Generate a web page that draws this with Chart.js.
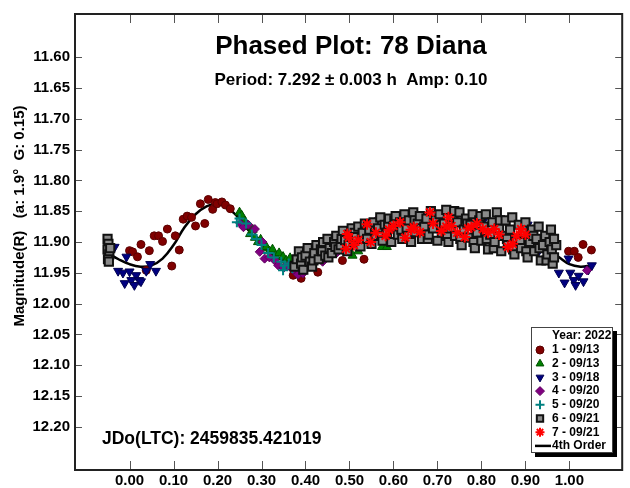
<!DOCTYPE html>
<html>
<head>
<meta charset="utf-8">
<script src="https://cdn.jsdelivr.net/npm/chart.js@4.4.1/dist/chart.umd.min.js"></script>
<style>
html, body { margin: 0; padding: 0; background: #fff; }
</style>
</head>
<body>
<canvas id="c" width="630" height="488"></canvas>
<script>
// axis ticks
const xTicks = [0.00, 0.10, 0.20, 0.30, 0.40, 0.50, 0.60, 0.70, 0.80, 0.90, 1.00];
const yTicks = [11.60, 11.65, 11.70, 11.75, 11.80, 11.85, 11.90, 11.95, 12.00, 12.05, 12.10, 12.15, 12.20];

const legendLabels = ['1 - 09/13', '2 - 09/13', '3 - 09/18', '4 - 09/20', '5 - 09/20', '6 - 09/21', '7 - 09/21'];

// [phase, magnitude]
const series1 = [[0.000,11.914],[0.007,11.916],[0.018,11.924],[0.026,11.904],[0.038,11.946],[0.045,11.914],[0.056,11.890],[0.066,11.890],
  [0.075,11.899],[0.086,11.879],[0.096,11.939],[0.104,11.890],[0.113,11.913],[0.122,11.863],[0.131,11.858],[0.141,11.860],[0.150,11.874],
  [0.161,11.838],[0.171,11.870],[0.179,11.831],[0.189,11.847],[0.195,11.836],[0.199,11.838],[0.210,11.835],[0.218,11.840],[0.229,11.846],
  [0.372,11.954],[0.390,11.959],[0.428,11.949],[0.484,11.930],[0.533,11.928],
  [0.998,11.915],[1.011,11.915],[1.020,11.925],[1.031,11.904],[1.050,11.913]];

const series2 = [[0.250,11.852],[0.255,11.857],[0.262,11.866],[0.268,11.875],[0.274,11.887],[0.280,11.880],[0.285,11.893],[0.292,11.900],
  [0.298,11.896],[0.305,11.910],[0.311,11.908],[0.318,11.915],[0.325,11.912],[0.332,11.922],[0.340,11.918],[0.349,11.924],[0.356,11.930],
  [0.365,11.926],[0.375,11.935],[0.385,11.930],[0.395,11.928],[0.405,11.935],[0.438,11.925],[0.507,11.922],[0.520,11.915],[0.574,11.908],[0.585,11.908]];

const series3 = [[-0.034,11.908],[-0.026,11.947],[-0.015,11.950],[-0.011,11.967],[-0.007,11.924],[0.000,11.948],[0.004,11.962],[0.011,11.970],
  [0.015,11.954],[0.022,11.962],[0.026,11.964],[0.038,11.947],[0.047,11.936],[0.060,11.947],
  [0.742,11.858],[0.807,11.862],[0.905,11.872],[0.930,11.915],[0.955,11.905],
  [0.976,11.950],[0.989,11.966],[0.998,11.927],[1.002,11.950],[1.010,11.962],[1.014,11.970],[1.021,11.955],[1.032,11.964],[1.043,11.945],[1.051,11.938]];

const series4 = [[0.252,11.870],[0.259,11.876],[0.270,11.872],[0.285,11.879],[0.296,11.916],[0.302,11.900],[0.307,11.927],[0.318,11.925],
  [0.330,11.930],[0.338,11.938],[0.350,11.942],[0.360,11.939],[0.372,11.945],[0.383,11.953],[0.394,11.951],[0.410,11.940],[0.439,11.932],
  [0.470,11.918],[0.560,11.866],[0.640,11.862],[0.700,11.866],[1.040,11.946]];

const series5 = [[0.244,11.868],[0.250,11.862],[0.265,11.870],[0.278,11.888],[0.289,11.895],[0.300,11.905],[0.315,11.918],[0.328,11.925],
  [0.345,11.932],[0.349,11.946],[0.353,11.938],[0.362,11.935],[0.370,11.942],[0.380,11.938],[0.395,11.930],[0.410,11.925],[0.425,11.915],
  [0.443,11.908],[0.460,11.900],[0.480,11.895],[0.500,11.890],[0.540,11.880],[0.600,11.872]];

const series6 = [[-0.050,11.895],[-0.048,11.903],[-0.050,11.912],[-0.046,11.920],[-0.049,11.928],[-0.044,11.910],[-0.047,11.932],
  [0.375,11.940],[0.380,11.928],
  [0.385,11.915],[0.390,11.935],[0.392,11.925],[0.395,11.945],[0.400,11.922],[0.405,11.910],[0.410,11.932],[0.415,11.940],[0.418,11.930],
  [0.420,11.918],[0.425,11.905],[0.430,11.928],[0.435,11.912],[0.438,11.915],[0.440,11.900],[0.445,11.922],[0.450,11.895],[0.452,11.925],
  [0.455,11.910],[0.460,11.918],[0.465,11.900],[0.468,11.908],[0.470,11.890],[0.475,11.912],[0.480,11.905],[0.482,11.895],[0.485,11.882],
  [0.490,11.897],[0.495,11.915],[0.498,11.905],[0.500,11.888],[0.505,11.878],[0.510,11.900],[0.512,11.885],[0.515,11.892],[0.520,11.875],
  [0.525,11.907],[0.528,11.895],[0.530,11.885],[0.535,11.870],[0.540,11.895],[0.542,11.872],[0.545,11.880],[0.550,11.903],[0.555,11.868],
  [0.558,11.882],[0.560,11.890],[0.565,11.878],[0.570,11.860],[0.572,11.890],[0.575,11.898],[0.580,11.872],[0.585,11.885],[0.588,11.872],
  [0.590,11.862],[0.595,11.900],[0.600,11.875],[0.602,11.865],[0.605,11.858],[0.610,11.888],[0.615,11.868],[0.618,11.880],[0.620,11.895],
  [0.625,11.855],[0.630,11.878],[0.632,11.890],[0.635,11.865],[0.640,11.900],[0.645,11.852],[0.648,11.865],[0.650,11.884],[0.655,11.870],
  [0.660,11.858],[0.662,11.878],[0.665,11.895],[0.670,11.875],[0.675,11.862],[0.678,11.895],[0.680,11.888],[0.685,11.850],[0.690,11.878],
  [0.692,11.858],[0.695,11.865],[0.700,11.898],[0.705,11.855],[0.708,11.872],[0.710,11.885],[0.715,11.870],[0.720,11.848],[0.722,11.890],
  [0.725,11.900],[0.730,11.878],[0.735,11.860],[0.738,11.850],[0.740,11.890],[0.745,11.868],[0.750,11.852],[0.752,11.895],[0.755,11.905],
  [0.760,11.880],[0.765,11.862],[0.768,11.870],[0.770,11.893],[0.775,11.872],[0.780,11.855],[0.782,11.900],[0.785,11.910],[0.790,11.885],
  [0.795,11.865],[0.798,11.858],[0.800,11.898],[0.805,11.875],[0.810,11.855],[0.812,11.895],[0.815,11.912],[0.820,11.888],[0.825,11.868],
  [0.828,11.910],[0.830,11.900],[0.835,11.852],[0.840,11.878],[0.842,11.865],[0.845,11.915],[0.850,11.890],[0.855,11.865],[0.858,11.895],
  [0.860,11.905],[0.865,11.880],[0.870,11.860],[0.872,11.912],[0.875,11.920],[0.880,11.895],[0.885,11.872],[0.888,11.900],[0.890,11.910],
  [0.895,11.885],[0.900,11.868],[0.902,11.915],[0.905,11.925],[0.910,11.900],[0.915,11.880],[0.918,11.890],[0.920,11.915],[0.925,11.895],
  [0.930,11.875],[0.932,11.910],[0.935,11.930],[0.940,11.905],[0.945,11.890],[0.948,11.930],[0.950,11.920],[0.955,11.900],[0.958,11.880],
  [0.960,11.912],[0.962,11.935],[0.965,11.925],[0.970,11.905],[0.965,11.895]];

const series7 = [[0.492,11.911],[0.495,11.887],[0.499,11.893],[0.510,11.905],[0.520,11.897],[0.540,11.871],[0.548,11.900],[0.560,11.885],
  [0.582,11.890],[0.590,11.880],[0.600,11.874],[0.615,11.868],[0.627,11.893],[0.640,11.880],[0.646,11.876],[0.660,11.884],[0.683,11.852],
  [0.690,11.870],[0.709,11.882],[0.720,11.875],[0.725,11.860],[0.732,11.874],[0.745,11.885],[0.762,11.892],[0.770,11.878],[0.777,11.876],
  [0.790,11.870],[0.803,11.879],[0.815,11.885],[0.829,11.879],[0.840,11.888],[0.860,11.908],[0.871,11.903],[0.880,11.890],[0.890,11.879],[0.900,11.888]];

// 4th order fit curve
const curvePhase = [-0.05,-0.025,0,0.025,0.05,0.075,0.1,0.125,0.15,0.175,0.2,0.225,0.25,0.275,0.3,0.325,0.35,0.375,0.4,
  0.45,0.5,0.55,0.6,0.65,0.7,0.75,0.8,0.85,0.9,0.925,0.95,0.975,1.0,1.025,1.05];
const curveMag = [11.918,11.928,11.936,11.940,11.938,11.927,11.905,11.876,11.855,11.842,11.838,11.846,11.862,11.885,11.905,11.920,11.930,11.932,11.928,
  11.912,11.898,11.886,11.877,11.873,11.872,11.874,11.879,11.886,11.896,11.904,11.912,11.924,11.936,11.940,11.938];

const FONT = "'Liberation Sans', Arial, sans-serif";

function pts(arr) {
    return arr.map(p => ({ x: p[0], y: p[1] }));
}

const markerSets = [
    { data: series1, pointStyle: 'circle',   pointRadius: 4,   backgroundColor: '#800000', borderColor: '#5a0000', borderWidth: 1, order: 7 },
    { data: series2, pointStyle: 'triangle', pointRadius: 5.2, backgroundColor: '#008000', borderColor: '#005000', borderWidth: 1, order: 6 },
    { data: series3, pointStyle: 'triangle', pointRadius: 5.2, rotation: 180, backgroundColor: '#000080', borderColor: '#000050', borderWidth: 1, order: 5 },
    { data: series4, pointStyle: 'rectRot',  pointRadius: 4.5, backgroundColor: '#800080', borderColor: '#600060', borderWidth: 1, order: 4 },
    { data: series5, pointStyle: 'cross',    pointRadius: 5,   backgroundColor: '#008080', borderColor: '#008080', borderWidth: 2, order: 3 },
    { data: series6, pointStyle: 'rect',     pointRadius: 5.8, backgroundColor: '#8a8a8a', borderColor: '#111111', borderWidth: 2, order: 2 },
    { data: series7, pointStyle: 'star',     pointRadius: 5.5, backgroundColor: '#ff0000', borderColor: '#ff0000', borderWidth: 2, order: 1 }
];

const datasets = markerSets.map((s, i) => ({
    label: legendLabels[i],
    data: pts(s.data),
    pointStyle: s.pointStyle,
    pointRadius: s.pointRadius,
    pointRotation: s.rotation || 0,
    rotation: s.rotation || 0,
    backgroundColor: s.backgroundColor,
    borderColor: s.borderColor,
    borderWidth: s.borderWidth,
    pointBorderWidth: s.borderWidth,
    showLine: false,
    order: s.order
}));

datasets.push({
    type: 'line',
    label: '4th Order',
    data: curvePhase.map((p, i) => ({ x: p, y: curveMag[i] })),
    borderColor: '#000',
    borderWidth: 2.5,
    pointRadius: 0,
    tension: 0.4,
    fill: false,
    order: 10
});

function line(ctx, x1, y1, x2, y2) {
    ctx.beginPath(); ctx.moveTo(x1, y1); ctx.lineTo(x2, y2); ctx.stroke();
}

// frame, inward ticks, titles and legend box
const decor = {
    id: 'decor',
    afterDraw(chart) {
        const ctx = chart.ctx, a = chart.chartArea;
        const xs = chart.scales.x, ys = chart.scales.y;
        ctx.save();

        ctx.strokeStyle = '#555'; ctx.lineWidth = 1;
        yTicks.forEach(v => {
            const y = Math.round(ys.getPixelForValue(v)) + 0.5;
            line(ctx, a.left, y, a.left + 7, y);
            line(ctx, a.right - 7, y, a.right, y);
        });
        xTicks.forEach(v => {
            const x = Math.round(xs.getPixelForValue(v)) + 0.5;
            line(ctx, x, a.bottom, x, a.bottom - 9);
            line(ctx, x, a.top, x, a.top + 9);
        });

        ctx.strokeStyle = '#222'; ctx.lineWidth = 2;
        ctx.strokeRect(a.left, a.top, a.right - a.left, a.bottom - a.top);

        ctx.fillStyle = '#000';
        ctx.textAlign = 'center'; ctx.textBaseline = 'alphabetic';
        ctx.font = 'bold 26px ' + FONT;
        ctx.fillText('Phased Plot: 78 Diana', 351, 54);
        ctx.font = 'bold 17px ' + FONT;
        ctx.fillText('Period: 7.292 ± 0.003 h  Amp: 0.10', 351, 85);
        ctx.textAlign = 'left';
        ctx.font = 'bold 17.5px ' + FONT;
        ctx.fillText('JDo(LTC): 2459835.421019', 102, 444);

        // y axis title
        ctx.save();
        ctx.translate(20, 216);
        ctx.rotate(-Math.PI / 2);
        ctx.textAlign = 'center'; ctx.textBaseline = 'middle';
        ctx.font = 'bold 15px ' + FONT;
        ctx.fillText('Magnitude(R)   (a: 1.9°  G: 0.15)', 0, 0);
        ctx.restore();

        // legend
        const bx = 531, by = 327, bw = 82, bh = 126;
        ctx.fillStyle = '#000';
        ctx.fillRect(bx + 4, by + 4, bw, bh);
        ctx.fillStyle = '#fff';
        ctx.fillRect(bx, by, bw, bh);
        ctx.strokeStyle = '#444'; ctx.lineWidth = 1;
        ctx.strokeRect(bx + 0.5, by + 0.5, bw - 1, bh - 1);

        ctx.textAlign = 'left'; ctx.textBaseline = 'middle';
        ctx.font = 'bold 12px ' + FONT;
        ctx.fillStyle = '#000';
        ctx.fillText('Year: 2022', 552, 336);
        const step = 13.7;
        markerSets.forEach((s, i) => {
            const y = 350 + i * step;
            ctx.fillStyle = s.backgroundColor;
            ctx.strokeStyle = s.borderColor;
            ctx.lineWidth = s.borderWidth;
            Chart.helpers.drawPoint(ctx, {
                pointStyle: s.pointStyle,
                radius: Math.min(s.pointRadius, 4.5),
                rotation: s.rotation || 0,
                borderWidth: s.borderWidth
            }, 540, y);
            ctx.fillStyle = '#000';
            ctx.fillText(legendLabels[i], 552, y);
        });
        const yl = 350 + 7 * step;
        ctx.strokeStyle = '#000'; ctx.lineWidth = 2.5;
        line(ctx, 535, yl, 551, yl);
        ctx.fillStyle = '#000';
        ctx.fillText('4th Order', 552, yl);

        ctx.restore();
    }
};

new Chart(document.getElementById('c'), {
    type: 'scatter',
    data: { datasets: datasets },
    options: {
        responsive: false,
        animation: false,
        layout: { padding: { top: 8, right: 3, left: 0, bottom: 0 } },
        plugins: {
            legend: { display: false },
            tooltip: { enabled: false }
        },
        scales: {
            x: {
                type: 'linear',
                min: -0.124,
                max: 1.12,
                grid: { display: false, drawTicks: false },
                border: { display: false },
                afterBuildTicks: s => { s.ticks = xTicks.map(v => ({ value: v })); },
                afterFit: s => { s.height = 18; },
                ticks: {
                    autoSkip: false,
                    maxRotation: 0,
                    padding: 2,
                    color: '#000',
                    font: { family: FONT, size: 15, weight: 'bold' },
                    callback: v => v.toFixed(2)
                }
            },
            y: {
                type: 'linear',
                reverse: true,
                min: 11.53,
                max: 12.27,
                grid: { display: false, drawTicks: false },
                border: { display: false },
                afterBuildTicks: s => { s.ticks = yTicks.map(v => ({ value: v })); },
                afterFit: s => { s.width = 75; },
                ticks: {
                    autoSkip: false,
                    padding: 5,
                    color: '#000',
                    font: { family: FONT, size: 15, weight: 'bold' },
                    callback: v => v.toFixed(2)
                }
            }
        }
    },
    plugins: [decor]
});
</script>
</body>
</html>
